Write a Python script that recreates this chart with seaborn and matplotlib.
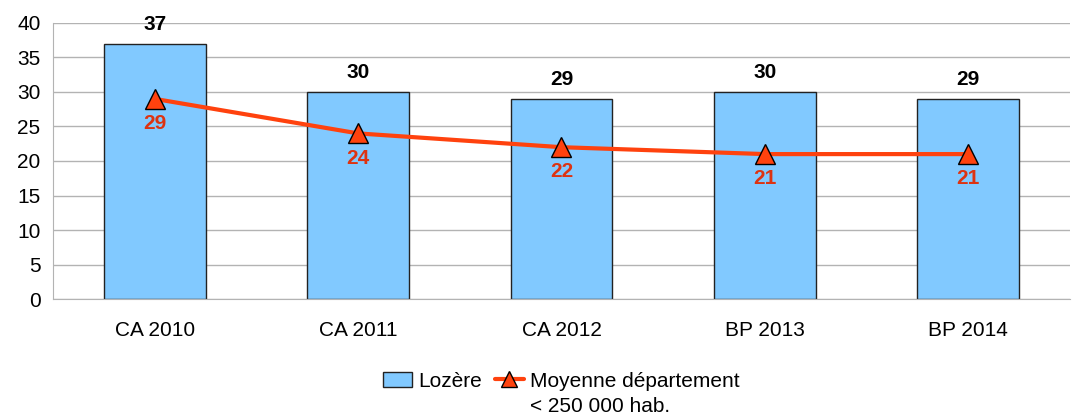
import numpy as np
import pandas as pd
import seaborn as sns
import matplotlib.pyplot as plt
from matplotlib.patches import Patch
from matplotlib.lines import Line2D

categories = ['CA 2010', 'CA 2011', 'CA 2012', 'BP 2013', 'BP 2014']
lozere = [37, 30, 29, 30, 29]
moyenne = [29, 24, 22, 21, 21]
legend_labels = ['Lozère', 'Moyenne département', '< 250 000 hab.']

bar_color = '#81c9ff'
line_color = '#ff420e'
label_red = '#dd3311'
grid_gray = '#b3b3b3'

sns.set_style('white')
plt.rcParams['font.family'] = ['Liberation Sans', 'DejaVu Sans']
plt.rcParams['text.color'] = 'black'
plt.rcParams['xtick.labelcolor'] = 'black'
plt.rcParams['ytick.labelcolor'] = 'black'

df = pd.DataFrame({'cat': categories, 'lozere': lozere, 'moyenne': moyenne,
                   'pos': np.arange(len(categories))})

fig = plt.figure(figsize=(10.77, 4.15), dpi=100)
ax = fig.add_axes([0.0492, 0.2795, 0.9443, 0.6651])

sns.barplot(data=df, x='cat', y='lozere', color=bar_color, width=0.5,
            edgecolor='#222222', linewidth=1, saturation=1, ax=ax, zorder=2)
sns.lineplot(data=df, x='pos', y='moyenne', color=line_color, linewidth=3,
             marker='^', markersize=14, markerfacecolor=line_color,
             markeredgecolor='black', markeredgewidth=1, ax=ax, zorder=3)

ax.bar_label(ax.containers[0], fontsize=15, fontweight='bold', padding=7, color='black')
for i, v in enumerate(moyenne):
    ax.annotate(str(v), (i, v), xytext=(0, -11), textcoords='offset points',
                ha='center', va='top', fontsize=15, fontweight='bold', color=label_red)

ax.set_ylim(0, 40)
ax.set_xlim(-0.5, len(categories) - 0.5)
ax.set_yticks(range(0, 41, 5))
ax.yaxis.grid(True, color=grid_gray, linewidth=1)
ax.set_axisbelow(True)
ax.set_xlabel('')
ax.set_ylabel('')
ax.set_xticks(range(len(categories)))
ax.set_xticklabels(categories)
ax.set_xticks(np.arange(-0.5, len(categories)), minor=True)
ax.tick_params(axis='x', which='major', length=0, pad=16, labelsize=15)
ax.tick_params(axis='x', which='minor', length=10, color=grid_gray, width=1)
ax.tick_params(axis='y', length=6, color=grid_gray, width=1, labelsize=15, pad=3)
for s in ['top', 'right']:
    ax.spines[s].set_visible(False)
for s in ['left', 'bottom']:
    ax.spines[s].set_color(grid_gray)

handles = [Patch(facecolor=bar_color, edgecolor='#222222', linewidth=1),
           Line2D([], [], color=line_color, linewidth=3, marker='^', markersize=12,
                  markerfacecolor=line_color, markeredgecolor='black')]
leg = ax.legend(handles, legend_labels[:2], ncol=2,
                loc='upper center', bbox_to_anchor=(0.5, -0.233), frameon=False,
                fontsize=15, handlelength=1.4, handletextpad=0.3, columnspacing=0.6,
                borderaxespad=0)

# second line of the legend label, under the first one
fig.canvas.draw()
bb = leg.get_texts()[1].get_window_extent().transformed(fig.transFigure.inverted())
fig.text(bb.x0, bb.y0 - 0.015, legend_labels[2], ha='left', va='top', fontsize=15)

fig.savefig('out.png', dpi=100)
